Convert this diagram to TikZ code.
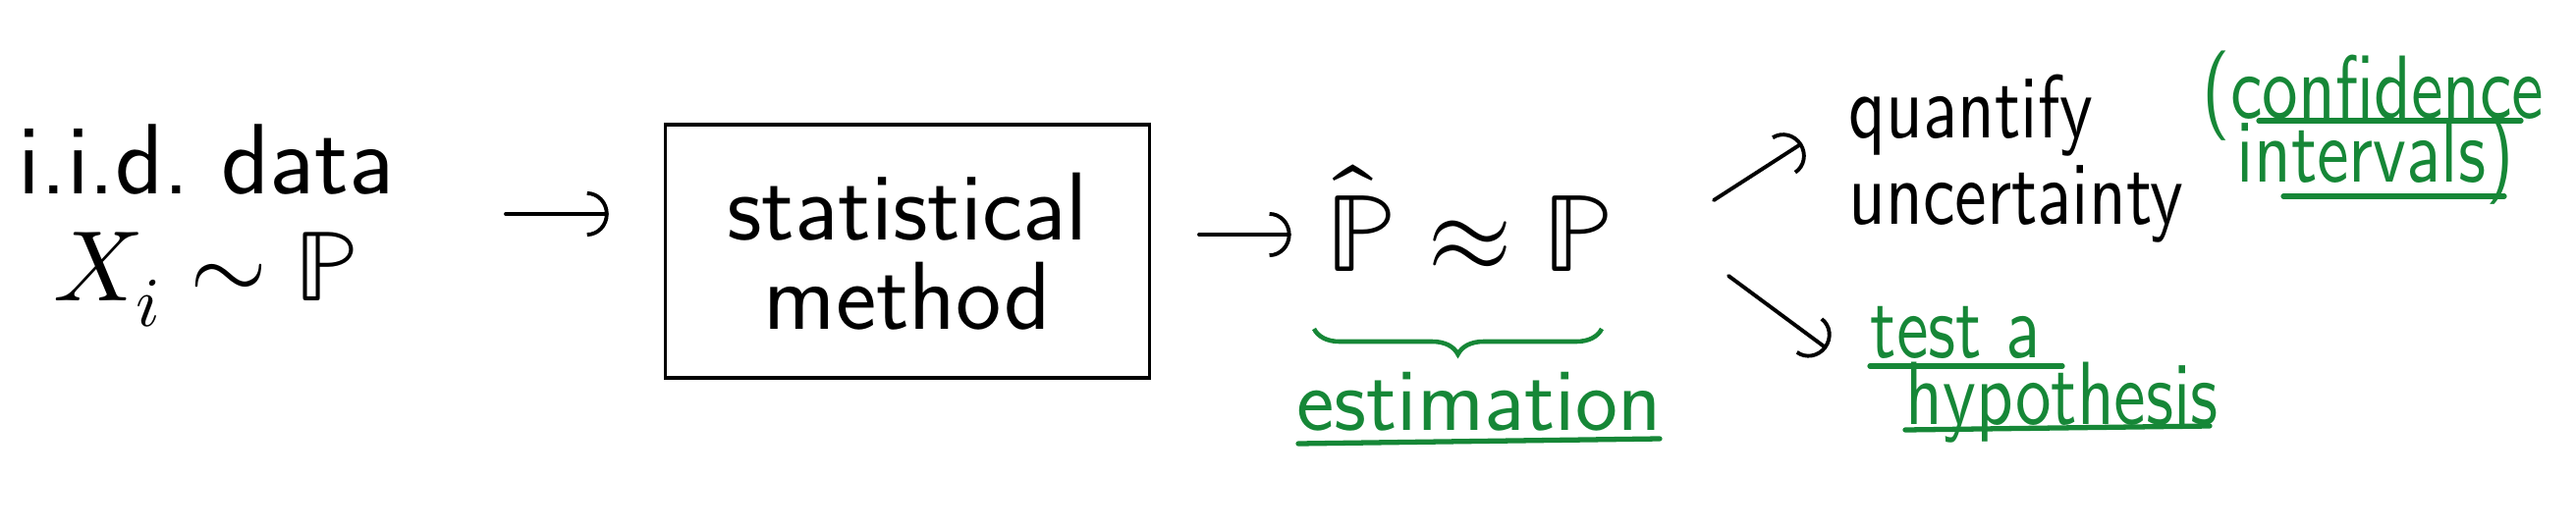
\documentclass[tikz,border=0pt]{standalone}
\usepackage{fontspec}
\usepackage{unicode-math}
\setmathfont{Latin Modern Math}
\newfontfamily\narrowsans{lmsans10-regular.otf}[FakeStretch=0.8]
\usetikzlibrary{arrows.meta,decorations.pathreplacing}
\definecolor{penGreen}{RGB}{22,135,55}
\tikzset{
  hand/.style={font=\sffamily\fontsize{26}{31}\selectfont, inner sep=0pt},
  narrowhand/.style={font=\narrowsans\fontsize{26}{25}\selectfont, inner sep=0pt},
  greenhand/.style={narrowhand, text=penGreen},
  arr/.style={line width=1.1pt, line cap=round, -{Arc Barb[length=2.2mm,width=4.6mm,line width=1.1pt]}},
  uline/.style={penGreen, line width=1.5pt, line cap=round},
}

\begin{document}
\begin{tikzpicture}[x=0.01cm, y=-0.01cm]
    \useasboundingbox (0,0) rectangle (2623,539);
    % Data and method
    \node[hand, align=center, font=\sffamily\fontsize{29}{31}\selectfont] (data) at (210,230)
          {i.i.d.\ data\\$X_i \sim \mathbb{P}$};
    \node[hand, draw, line width=0.9pt, minimum width=4.93cm, minimum height=2.58cm,
          align=center, font=\sffamily\fontsize{28}{26}\selectfont] (method) at (924,256)
          {statistical\\method};
    \node[hand, font=\fontsize{32}{38}\selectfont] (est) at (1497,222)
          {$\hat{\mathbb{P}} \approx \mathbb{P}$};
    % Arrows between stages
    \coordinate (a1) at (515,218);
    \coordinate (a2) at (1221,239);
    \draw[arr, shorten >=5.6mm] (a1) -- (a1 -| method.west);
    \draw[arr, shorten >=3.5mm] (a2) -- (a2 -| est.west);
    % Estimation brace
    \draw[penGreen, line width=1.3pt, decorate, decoration={brace, mirror, amplitude=2.6mm}]
        (1338,335) -- (1631,335);
    \node[hand, text=penGreen, anchor=base] (estim) at (1506,438) {estimation};
    \draw[uline] (1322,452) -- (1690,447);
    % Two uses
    \node[narrowhand, align=left, anchor=west] (quant) at (1882,162) {quantify\\uncertainty};
    \node[greenhand, anchor=base west] (conf) at (2242,120) {(confidence};
    \node[greenhand, anchor=base west] (intv) at (2277,185) {intervals)};
    \draw[uline] (2300,123) -- (2567,123);
    \draw[uline] (2325,200) -- (2550,200);
    \node[greenhand, anchor=base west] (test) at (1904,364) {test a};
    \node[greenhand, anchor=base west] (hypo) at (1940,432) {hypothesis};
    \draw[uline] (1904,373) -- (2100,373);
    \draw[uline] (1940,438) -- (2250,434);
    \coordinate (u1) at (1745,204);
    \coordinate (u2) at (1835,146);
    \coordinate (d1) at (1760,281);
    \coordinate (d2) at (1860,355);
    \draw[arr] (u1) -- (u2);
    \draw[arr] (d1) -- (d2);
\end{tikzpicture}
\end{document}
